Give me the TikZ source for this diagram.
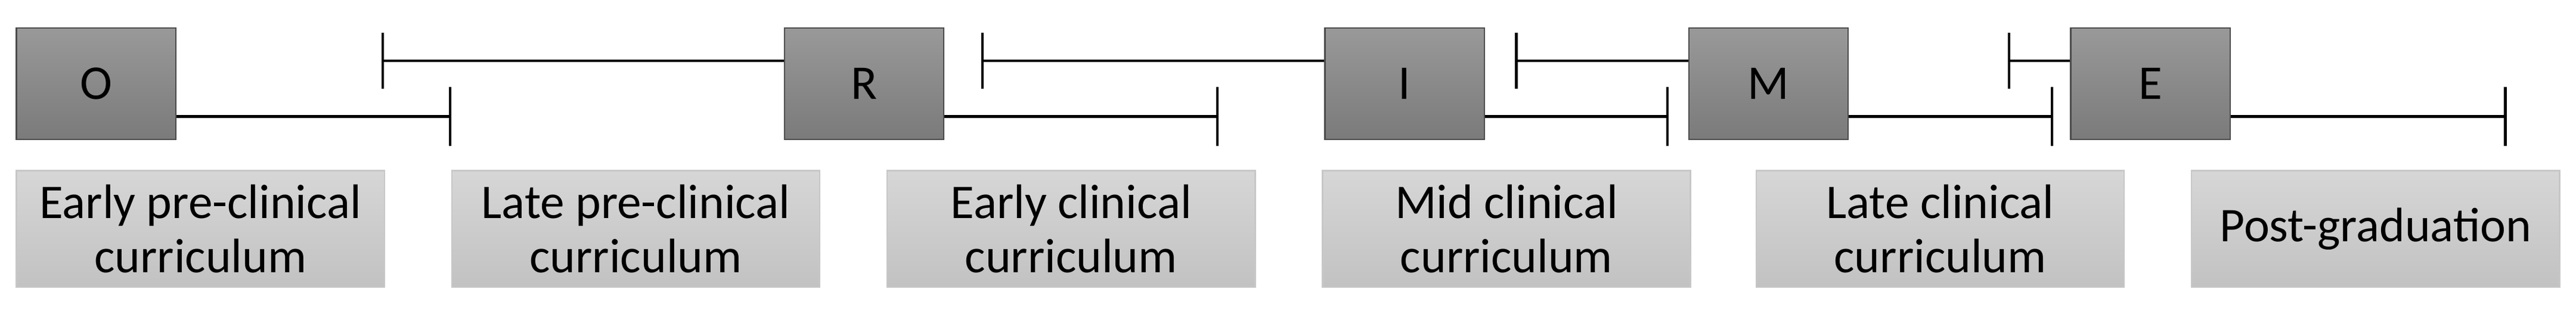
\documentclass[tikz,border=0pt]{standalone}
\usepackage{fontspec}
\setmainfont{Carlito}
\begin{document}
\begin{tikzpicture}[x=0.1mm,y=-0.1mm,
 dark/.style={draw=black!70,line width=0.25pt,top color=black!40,bottom color=black!52,minimum width=9.7mm,minimum height=6.8mm,inner sep=0pt,font=\fontsize{8.4}{9.4}\selectfont},
 light/.style={draw=black!22,line width=0.25pt,top color=black!16,bottom color=black!24,minimum width=22.4mm,minimum height=7.1mm,inner sep=0pt,align=center,font=\fontsize{8.4}{9.4}\selectfont},
 bar/.style={line width=0.5pt},
 tick/.style={line width=0.45pt}]
\useasboundingbox (0,0) rectangle (1568,189.4);
\foreach \n/\t/\x in {O/O/58.5,R/R/526,I/I/855,M/M/1076.5,E/E/1309}
  \node[dark] (\n) at (\x,51) {\t};
\foreach \n/\t/\x in {l1/{Early pre-clinical\\curriculum}/122,l2/{Late pre-clinical\\curriculum}/387,l3/{Early clinical\\curriculum}/652,l4/{Mid clinical\\curriculum}/917,l5/{Late clinical\\curriculum}/1181,l6/{Post-graduation}/1446}
  \node[light] (\n) at (\x,139.5) {\t};
% right connectors
\foreach \n/\e in {O/274,R/741,I/1015,M/1249,E/1525}{
  \coordinate (\n r) at (\e,71);
  \draw[bar] (\n.east |- \n r) -- (\n r);
  \draw[tick] (\e,53) -- (\e,89);
}
% left connectors
\foreach \n/\s in {R/233,I/598,M/923,E/1223}{
  \coordinate (\n l) at (\s,37);
  \draw[bar] (\n l) -- (\n.west |- \n l);
  \draw[tick] (\s,20) -- (\s,54);
}
\end{tikzpicture}
\end{document}
